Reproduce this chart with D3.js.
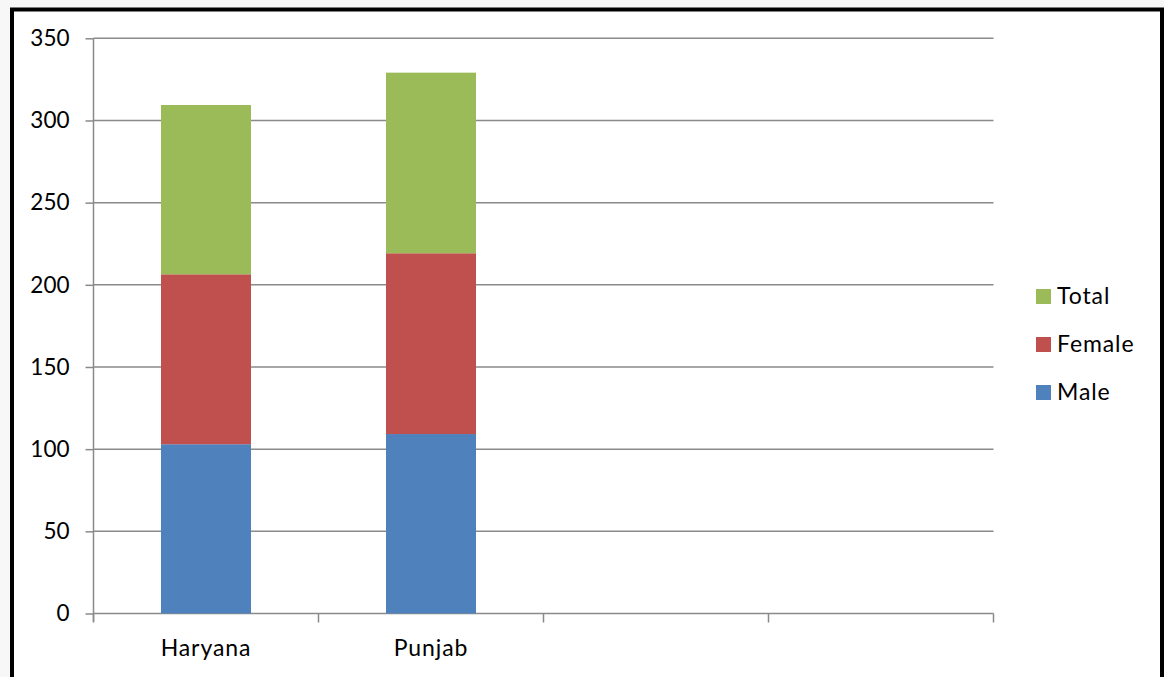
<!DOCTYPE html>
<html>
<head>
<meta charset="utf-8">
<script src="https://cdn.jsdelivr.net/npm/d3@7"></script>
<style>
  html, body { margin: 0; padding: 0; background: #f7f7f7; }
  svg { display: block; }
  text { font-family: Lato, "Open Sans", sans-serif; fill: #000; }
  .word { font-size: 23px; letter-spacing: 0.9px; }
</style>
</head>
<body>
<svg id="chart" width="1164" height="677"></svg>
<script>
// Category slots on the x axis (the last two are empty)
const categories = ["Haryana", "Punjab", "", ""];
// Stacked series, bottom to top
const seriesNames = ["Male", "Female", "Total"];
const maleValues   = [103.0, 109.2];
const femaleValues = [103.4, 110.0];
const totalValues  = [103.0, 109.9];
const yTicks = [0, 50, 100, 150, 200, 250, 300, 350];
const colors = { Male: "#4F81BD", Female: "#C0504D", Total: "#9BBB59" };

const rows = categories.map((c, i) => ({
  key: i,
  label: c,
  Male: maleValues[i] ?? 0,
  Female: femaleValues[i] ?? 0,
  Total: totalValues[i] ?? 0
}));

const svg = d3.select("#chart");
const W = 1164, H = 677;

// page frame
svg.append("rect").attr("x", 12).attr("y", 9).attr("width", W - 12).attr("height", H - 9)
  .attr("fill", "#fff");
svg.append("path")
  .attr("d", `M12,${H} L12,9.5 L1162,9.5 L1162,${H}`)
  .attr("fill", "none").attr("stroke", "#000").attr("stroke-width", 4);

const plot = { left: 93.5, right: 993.5, top: 38.3, bottom: 613.5 };

const x = d3.scaleBand()
  .domain(rows.map(r => r.key))
  .range([plot.left, plot.right])
  .paddingInner(0.6).paddingOuter(0.3);

const y = d3.scaleLinear().domain([0, 350]).range([plot.bottom, plot.top]);

// horizontal gridlines
svg.append("g").selectAll("line").data(yTicks.filter(t => t > 0)).join("line")
  .attr("x1", plot.left).attr("x2", plot.right)
  .attr("y1", d => y(d)).attr("y2", d => y(d))
  .attr("stroke", "#8a8a8a").attr("stroke-width", 1.5);

// y axis
const yAxis = d3.axisLeft(y).tickValues(yTicks).tickSize(8).tickPadding(16);
const gy = svg.append("g").attr("transform", `translate(${plot.left},0)`).call(yAxis);
gy.select(".domain").attr("stroke", "#8a8a8a").attr("stroke-width", 1.5)
  .attr("d", `M0,${plot.top}V${plot.bottom + 8}`);
gy.selectAll(".tick line").attr("stroke", "#8a8a8a").attr("stroke-width", 1.5);
gy.selectAll(".tick text").style("font-size", "22.5px").style("font-family", "Lato").attr("fill", "#000");

// x axis: tick marks at the category boundaries
const bounds = d3.range(categories.length + 1)
  .map(i => plot.left + i * (plot.right - plot.left) / categories.length);
const gx = svg.append("g");
gx.append("line").attr("x1", plot.left).attr("x2", plot.right)
  .attr("y1", plot.bottom).attr("y2", plot.bottom)
  .attr("stroke", "#8a8a8a").attr("stroke-width", 1.5);
gx.selectAll("line.tk").data(bounds).join("line").attr("class", "tk")
  .attr("x1", d => d).attr("x2", d => d)
  .attr("y1", plot.bottom).attr("y2", plot.bottom + 9)
  .attr("stroke", "#8a8a8a").attr("stroke-width", 1.5);
gx.selectAll("text").data(rows).join("text")
  .attr("class", "word")
  .attr("x", d => x(d.key) + x.bandwidth() / 2)
  .attr("y", 656)
  .attr("text-anchor", "middle")
  .text(d => d.label);

// stacked bars
const stack = d3.stack().keys(seriesNames);
const layers = stack(rows.slice(0, maleValues.length));
svg.append("g").selectAll("g").data(layers).join("g")
  .attr("fill", d => colors[d.key])
  .selectAll("rect").data(d => d).join("rect")
  .attr("x", d => x(d.data.key))
  .attr("width", x.bandwidth())
  .attr("y", d => y(d[1]))
  .attr("height", d => y(d[0]) - y(d[1]));

// legend (top series first)
const legendItems = seriesNames.slice().reverse();
const lg = svg.append("g").selectAll("g").data(legendItems).join("g")
  .attr("transform", (d, i) => `translate(1036,${296 + i * 48})`);
lg.append("rect").attr("x", 0).attr("y", -7).attr("width", 15).attr("height", 15)
  .attr("fill", d => colors[d]);
lg.append("text").attr("class", "word").attr("x", 21).attr("y", 8)
  .text(d => d);
</script>
</body>
</html>
